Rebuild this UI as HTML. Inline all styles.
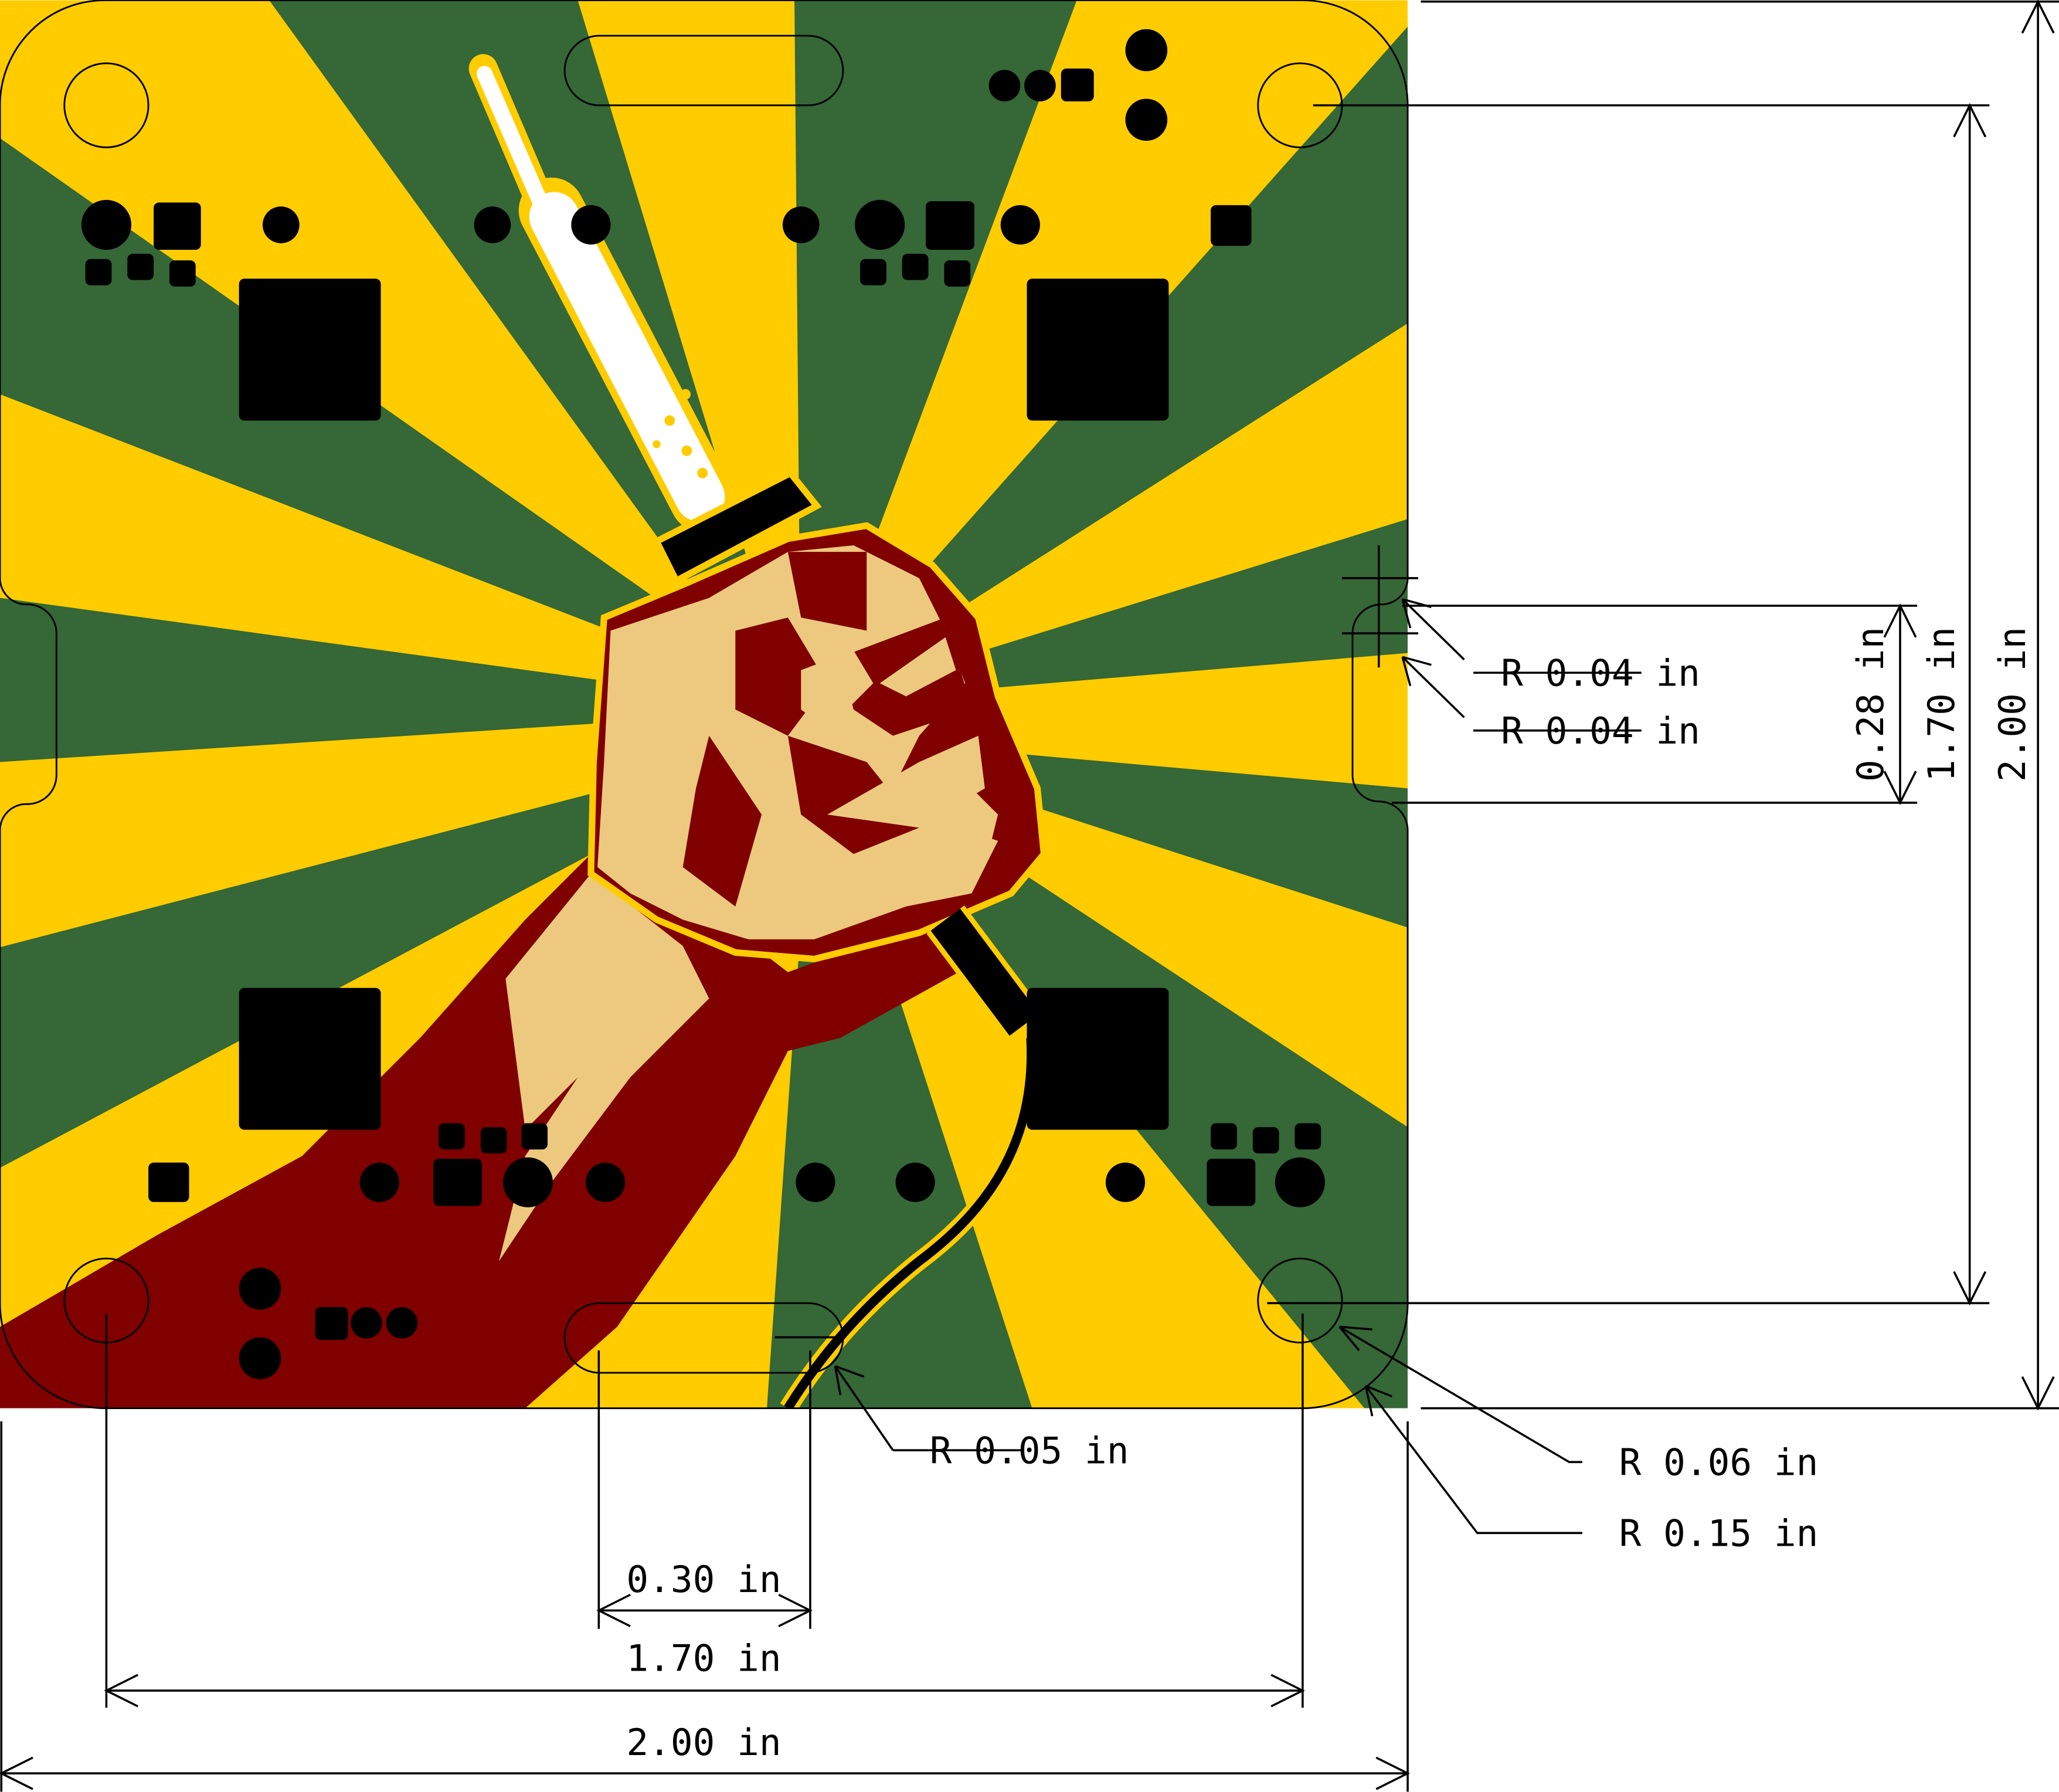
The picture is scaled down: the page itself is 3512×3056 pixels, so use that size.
<!DOCTYPE html>
<html><head><meta charset="utf-8"><style>
html,body{margin:0;padding:0;background:#fff;}
svg{display:block;}
text{font-family:"DejaVu Sans Mono","Liberation Mono",monospace;font-size:28px;fill:#000;}
</style></head><body>
<svg id="s" width="3512" height="3056" viewBox="0 0 1568 1364" xmlns="http://www.w3.org/2000/svg">
<defs><clipPath id="bc"><rect x="0" y="0" width="1072" height="1072"/></clipPath></defs>
<g clip-path="url(#bc)">
<rect x="0" y="0" width="1072" height="1072" fill="#ffcc00"/>
<g fill="#356737">
<polygon points="205,0 440,0 610,560"/>
<polygon points="605,0 820,0 610,560"/>
<polygon points="1072,20 1072,246 610,540"/>
<polygon points="1072,395 1072,497 620,535"/>
<polygon points="1072,600 1072,706 620,560"/>
<polygon points="1072,858 1072,1080 620,560"/>
<polygon points="1039,1072 1080,1072 1080,1000 620,560"/>
<polygon points="584,1072 786,1072 620,560"/>
<polygon points="0,721 0,889 620,560"/>
<polygon points="0,455 0,580 620,540"/>
<polygon points="0,105 0,300 620,540"/>
</g>
<path fill="#800000" d="M0,1010 L120,940 L230,880 L320,790 L400,700 L450,650 L470,640 L600,740 L710,700 L730,740 L640,790 L600,800 L560,880 L470,1010 L400,1072 L0,1072 Z"/>
<path fill="#ecc97f" d="M385,745 L450,665 L520,720 L540,760 L480,820 L420,900 L380,960 L400,880 L440,820 L400,860 Z"/>
<path fill="#800000" stroke="#ffcc00" stroke-width="5" d="M460,470 L520,445 L600,410 L660,400 L710,430 L745,470 L760,530 L790,600 L795,650 L770,680 L700,710 L620,730 L560,725 L500,700 L450,665 L452,580 Z"/>
<path fill="#ecc97f" d="M465,480 L540,455 L600,420 L650,415 L700,440 L720,480 L735,520 L700,560 L680,600 L720,580 L760,620 L750,660 L690,690 L620,715 L570,715 L520,700 L480,680 L455,660 L460,580 Z"/>
<g fill="#800000">
<path d="M600,420 L660,420 L660,480 L610,470 Z"/>
<path d="M560,480 L600,470 L630,520 L600,560 L560,540 Z"/>
<path d="M640,500 L720,470 L740,540 L680,560 L650,540 Z"/>
<path d="M600,560 L660,580 L700,630 L650,650 L610,620 Z"/>
<path d="M540,560 L580,620 L560,690 L520,660 L530,600 Z"/>
</g>
<g fill="#ecc97f">
<path d="M610,510 L650,495 L665,520 L630,555 L610,540 Z"/>
<path d="M670,520 L720,485 L728,510 L690,530 Z"/>
<path d="M630,620 L700,580 L745,560 L750,600 L700,630 Z"/>
<path d="M670,670 L730,630 L760,640 L740,680 L690,690 Z"/>
</g>
<path d="M785,790 C790,880 740,930 700,960 C650,1000 620,1040 600,1072" fill="none" stroke="#ffcc00" stroke-width="14"/>
<path d="M785,790 C790,880 740,930 700,960 C650,1000 620,1040 600,1072" fill="none" stroke="#000" stroke-width="7"/>
<line x1="720" y1="700" x2="780" y2="780" stroke="#ffcc00" stroke-width="36"/>
<line x1="720" y1="700" x2="780" y2="780" stroke="#000" stroke-width="28"/>
<g stroke="#ffcc00" stroke-linecap="round">
<line x1="368" y1="52" x2="412" y2="155" stroke-width="22"/>
<line x1="420" y1="160" x2="535" y2="380" stroke-width="50"/>
</g>
<g stroke="#fff" stroke-linecap="round">
<line x1="369" y1="56" x2="412" y2="155" stroke-width="12"/>
<line x1="422" y1="165" x2="533" y2="378" stroke-width="38"/>
</g>
<g fill="#ffcc00">
<circle cx="510" cy="320" r="4"/><circle cx="522" cy="300" r="4"/><circle cx="523" cy="343" r="4"/><circle cx="535" cy="360" r="4"/><circle cx="500" cy="338" r="3"/>
</g>
<polygon points="500,412 602,360 622,385 515,442" fill="#000" stroke="#ffcc00" stroke-width="5"/>
</g>
<g id="pads" fill="#000"></g>
<g fill="none" stroke="#000" stroke-width="1.3">
<path d="M80,0 L992,0 A80,80 0 0 1 1072,80 L1072,440 A20,20 0 0 1 1052,460 A22,22 0 0 0 1030,482 L1030,590 A20,20 0 0 0 1050,610 A22,22 0 0 1 1072,632 L1072,992 A80,80 0 0 1 992,1072 L80,1072 A80,80 0 0 1 0,992 L0,632 A20,20 0 0 1 20,612 A22,22 0 0 0 43,590 L43,482 A22,22 0 0 0 20,460 A20,20 0 0 1 0,440 L0,80 A80,80 0 0 1 80,0 Z"/>
<circle cx="81" cy="80" r="32"/>
<circle cx="990" cy="80" r="32"/>
<circle cx="81" cy="990" r="32"/>
<circle cx="990" cy="990" r="32"/>
<rect x="430" y="27" width="212" height="53" rx="26.5"/>
<rect x="430" y="992" width="212" height="53" rx="26.5"/>
</g>
<g stroke="#000" stroke-width="1.6" fill="none">
<line x1="1082" y1="1" x2="1568" y2="1"/><line x1="1000" y1="80" x2="1515" y2="80"/>
<line x1="1068" y1="461" x2="1460" y2="461"/><line x1="1060" y1="611" x2="1460" y2="611"/>
<line x1="965" y1="992" x2="1515" y2="992"/><line x1="1082" y1="1072" x2="1568" y2="1072"/>
<line x1="1552" y1="1" x2="1552" y2="1072"/><line x1="1500" y1="80" x2="1500" y2="992"/><line x1="1447" y1="461" x2="1447" y2="611"/>
<path d="M1540,25 L1552,1 L1564,25 M1540,1048 L1552,1072 L1564,1048 M1488,104 L1500,80 L1512,104 M1488,968 L1500,992 L1512,968 M1435,485 L1447,461 L1459,485 M1435,587 L1447,611 L1459,587"/>
<line x1="1" y1="1082" x2="1" y2="1364"/><line x1="1072" y1="1082" x2="1072" y2="1364"/>
<line x1="81" y1="1000" x2="81" y2="1300"/><line x1="992" y1="1000" x2="992" y2="1300"/>
<line x1="456" y1="1028" x2="456" y2="1240"/><line x1="617" y1="1028" x2="617" y2="1240"/>
<line x1="1" y1="1350" x2="1072" y2="1350"/><line x1="81" y1="1287" x2="992" y2="1287"/><line x1="456" y1="1226" x2="617" y2="1226"/>
<path d="M25,1338 L1,1350 L25,1362 M1048,1338 L1072,1350 L1048,1362 M105,1275 L81,1287 L105,1299 M968,1275 L992,1287 L968,1299 M480,1214 L456,1226 L480,1238 M593,1214 L617,1226 L593,1238"/>
<path d="M1122,512 L1250,512 M1115,502 L1068,456 M1068,456 L1090,462 M1068,456 L1074,478"/>
<path d="M1122,556 L1250,556 M1115,546 L1068,500 M1068,500 L1090,506 M1068,500 L1074,522"/>
<path d="M1050,415 L1050,508 M1022,440 L1080,440 M1022,482 L1080,482"/>
<path d="M680,1104 L780,1104 M680,1104 L636,1040 M636,1040 L658,1048 M636,1040 L640,1062 M590,1018 L640,1018"/>
<path d="M1205,1113 L1195,1113 L1020,1010 M1020,1010 L1045,1012 M1020,1010 L1035,1028"/>
<path d="M1205,1167 L1125,1167 L1040,1055 M1040,1055 L1060,1063 M1040,1055 L1045,1078"/>
</g>
<g>
<text x="1143" y="522">R 0.04 in</text>
<text x="1143" y="566">R 0.04 in</text>
<text x="708" y="1114">R 0.05 in</text>
<text x="1233" y="1123">R 0.06 in</text>
<text x="1233" y="1177">R 0.15 in</text>
<text x="536" y="1212" text-anchor="middle">0.30 in</text>
<text x="536" y="1272" text-anchor="middle">1.70 in</text>
<text x="536" y="1336" text-anchor="middle">2.00 in</text>
<text transform="translate(1542,536) rotate(-90)" text-anchor="middle">2.00 in</text>
<text transform="translate(1488,536) rotate(-90)" text-anchor="middle">1.70 in</text>
<text transform="translate(1434,536) rotate(-90)" text-anchor="middle">0.28 in</text>
</g>
</svg>
<script>
const circlePads=[[81,171,19],[214,171,14],[375,171,14],[450,171,15],[610,171,14],[670,171,19],[777,171,15],[765,65,12],[792,65,12],[873,38,16],[873,91,16],[289,900,15],[402,900,19],[461,900,15],[621,900,15],[697,900,15],[857,900,15],[990,900,19],[198,981,16],[198,1034,16],[279,1007,12],[306,1007,12]];
const rectPads=[[117,154,36,36],[65,197,20,20],[97,193,20,20],[129,198,20,20],[182,212,108,108],[705,153,37,37],[655,197,20,20],[687,193,20,20],[719,198,20,20],[782,212,108,108],[922,156,31,31],[808,52,25,25],[182,752,108,108],[782,752,108,108],[113,885,31,30],[330,882,37,36],[334,855,20,20],[366,858,20,20],[397,855,20,20],[922,855,20,20],[954,858,20,20],[986,855,20,20],[919,882,37,36],[240,995,25,25]];
const g=document.getElementById('pads');const NS='http://www.w3.org/2000/svg';
circlePads.forEach(p=>{const c=document.createElementNS(NS,'circle');c.setAttribute('cx',p[0]);c.setAttribute('cy',p[1]);c.setAttribute('r',p[2]);


g.appendChild(c);});
rectPads.forEach(p=>{const r=document.createElementNS(NS,'rect');r.setAttribute('x',p[0]);r.setAttribute('y',p[1]);r.setAttribute('width',p[2]);r.setAttribute('height',p[3]);r.setAttribute('rx',4);


g.appendChild(r);});
</script>
</body></html>
